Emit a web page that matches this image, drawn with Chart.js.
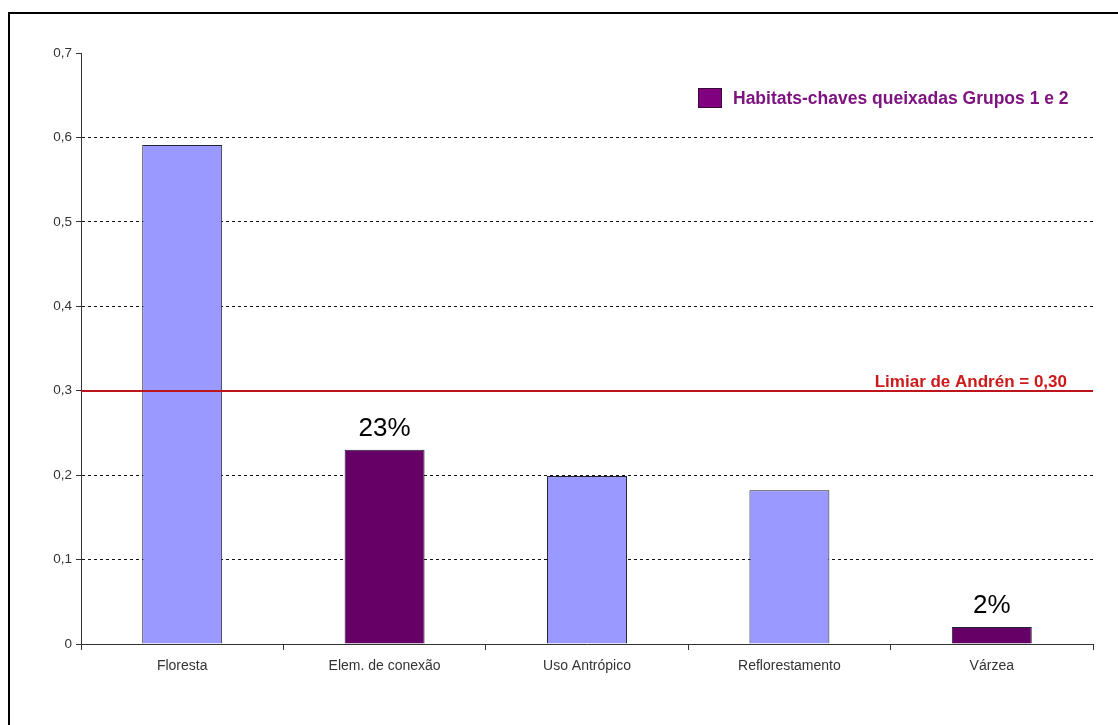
<!DOCTYPE html>
<html>
<head>
<meta charset="utf-8">
<script src="https://cdn.jsdelivr.net/npm/chart.js@4.4.0/dist/chart.umd.min.js"></script>
<style>
  html, body { margin: 0; padding: 0; background: #fff; }
  #wrap { position: relative; width: 1118px; height: 725px; }
</style>
</head>
<body>
<div id="wrap"><canvas id="graph" width="1118" height="725"></canvas></div>
<script>
const categorias = ["Floresta", "Elem. de conexão", "Uso Antrópico", "Reflorestamento", "Várzea"];
const valores = [0.591, 0.23, 0.199, 0.182, 0.02];
const destacados = [false, true, false, false, true];
const yTicks = [0, 0.1, 0.2, 0.3, 0.4, 0.5, 0.6, 0.7];
const limiar = 0.30;
const limiarTexto = "Limiar de Andrén = 0,30";
const legendaTexto = "Habitats-chaves queixadas Grupos 1 e 2";

const corClara = "#9999ff";
const corEscura = "#660066";

// moldura, linha do limiar, legenda e rótulos de porcentagem
const extras = {
  id: "extras",
  beforeDraw(chart) {
    const ctx = chart.ctx;
    ctx.save();
    ctx.fillStyle = "#fff";
    ctx.fillRect(0, 0, chart.width, chart.height);
    ctx.strokeStyle = "#000";
    ctx.lineWidth = 2;
    ctx.beginPath();
    ctx.moveTo(9, chart.height);
    ctx.lineTo(9, 13);
    ctx.lineTo(chart.width, 13);
    ctx.stroke();
    ctx.restore();
  },
  afterDatasetsDraw(chart) {
    const ctx = chart.ctx;
    const area = chart.chartArea;
    const y = chart.scales.y;
    const yl = Math.round(y.getPixelForValue(limiar));
    ctx.save();
    ctx.strokeStyle = "#c0141c";
    ctx.lineWidth = 2;
    ctx.beginPath();
    ctx.moveTo(area.left, yl);
    ctx.lineTo(area.right, yl);
    ctx.stroke();

    ctx.fillStyle = "#cc1a1a";
    ctx.font = "bold 17px 'Liberation Sans', Arial";
    ctx.textAlign = "right";
    ctx.textBaseline = "alphabetic";
    ctx.fillText(limiarTexto, 1067, yl - 4);

    // legenda
    ctx.fillStyle = "#800080";
    ctx.strokeStyle = "#3a0a3a";
    ctx.lineWidth = 1;
    ctx.fillRect(698, 88, 24, 20);
    ctx.strokeRect(698.5, 88.5, 23, 19);
    ctx.fillStyle = "#7d1480";
    ctx.font = "bold 17.5px 'Liberation Sans', Arial";
    ctx.textAlign = "left";
    ctx.textBaseline = "middle";
    ctx.fillText(legendaTexto, 733, 99);

    // porcentagens sobre as barras destacadas
    const meta = chart.getDatasetMeta(0);
    ctx.fillStyle = "#000";
    ctx.font = "26px 'Liberation Sans', Arial";
    ctx.textAlign = "center";
    ctx.textBaseline = "alphabetic";
    meta.data.forEach((bar, i) => {
      if (!destacados[i]) return;
      ctx.fillText(Math.round(valores[i] * 100) + "%", bar.x, bar.y - 14);
    });
    ctx.restore();
  }
};

const graph = document.getElementById("graph");
new Chart(graph, {
  type: "bar",
  data: {
    labels: categorias,
    datasets: [{
      data: valores,
      backgroundColor: destacados.map(d => d ? corEscura : corClara),
      borderColor: "#222233",
      borderWidth: 1,
      categoryPercentage: 1,
      barPercentage: 0.395
    }]
  },
  options: {
    responsive: false,
    animation: false,
    devicePixelRatio: 1,
    layout: { padding: { top: 53, right: 25, left: 0, bottom: 0 } },
    plugins: { legend: { display: false }, tooltip: { enabled: false } },
    scales: {
      x: {
        afterFit: s => { s.height = 81; },
        grid: { offset: true, color: "transparent", tickColor: "#333", tickLength: 6, drawOnChartArea: false },
        border: { color: "#333", width: 1 },
        ticks: { color: "#333", font: { family: "'Liberation Sans', Arial", size: 14 }, padding: 8 }
      },
      y: {
        min: 0,
        max: 0.7,
        afterFit: s => { s.width = 81; },
        afterBuildTicks: s => { s.ticks = yTicks.map(v => ({ value: v })); },
        grid: {
          color: c => (c.tick && c.tick.value > 0 && c.tick.value < 0.7) ? "#111" : "transparent",
          lineWidth: 1,
          tickColor: "#333",
          tickLength: 5
        },
        border: { color: "#333", width: 1, dash: [3, 3] },
        ticks: {
          color: "#333",
          padding: 4,
          font: { family: "'Liberation Sans', Arial", size: 13.5 },
          callback: v => String(v).replace(".", ",")
        }
      }
    }
  },
  plugins: [extras]
});
</script>
</body>
</html>
